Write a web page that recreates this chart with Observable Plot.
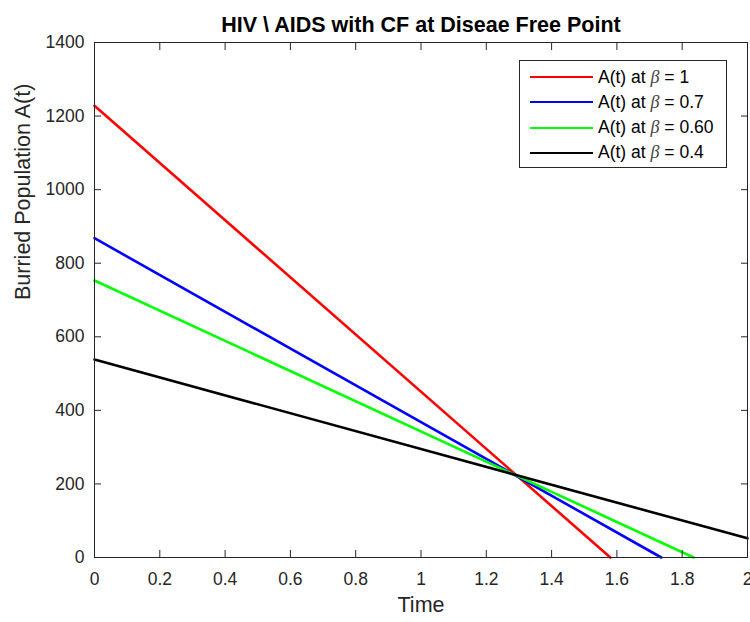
<!DOCTYPE html>
<html>
<head>
<meta charset="utf-8">
<script src="https://cdn.jsdelivr.net/npm/d3@7"></script>
<script src="https://cdn.jsdelivr.net/npm/@observablehq/plot@0.6"></script>
<style>
  html, body { margin: 0; padding: 0; background: #fff; }
  #wrap { position: relative; width: 750px; height: 622px; font-family: "Liberation Sans", Arial, sans-serif; }
  #legend { position: absolute; left: 519px; top: 60px; width: 208px; height: 108px; border: 1px solid #262626; background: #fff; box-sizing: border-box; }
  .row { position: absolute; left: 0; height: 22px; display: flex; align-items: center; font-size: 17.5px; color: #000; white-space: nowrap; }
  .row .sw { width: 63px; height: 0; border-top: 2.6px solid; margin-left: 10px; margin-right: 5px; }
  .beta { font-family: "Liberation Serif", "DejaVu Serif", serif; font-style: italic; color: #444; font-size: 18px; }
</style>
</head>
<body>
<div id="wrap"><div id="chart"></div><div id="legend"></div></div>
<script>
const title = "HIV \\ AIDS with CF at Diseae Free Point";
const xLabel = "Time";
const yLabel = "Burried Population A(t)";
const seriesNames = ["A(t) at β = 1", "A(t) at β = 0.7", "A(t) at β = 0.60", "A(t) at β = 0.4"];
const betaValues = ["1", "0.7", "0.60", "0.4"];
const seriesColors = ["#ff0000", "#0000ff", "#00ff00", "#000000"];
const timeValues = [[0, 1.58], [0, 1.736], [0, 1.835], [0, 2]];
const popValues = [[1228, 0], [868, 0], [753, 0], [538, 52]];
const xTicks = [0, 0.2, 0.4, 0.6, 0.8, 1, 1.2, 1.4, 1.6, 1.8, 2];
const yTicks = [0, 200, 400, 600, 800, 1000, 1200, 1400];

const rows = [];
seriesNames.forEach((name, i) => {
  timeValues[i].forEach((t, j) => rows.push({series: name, t, a: popValues[i][j]}));
});

const axisColor = "#262626";
const chart = Plot.plot({
  width: 750,
  height: 622,
  marginLeft: 94,
  marginRight: 3,
  marginTop: 42,
  marginBottom: 65,
  style: {fontFamily: "Liberation Sans, Arial, sans-serif", fontSize: "17.5px", color: axisColor, background: "#fff"},
  x: {domain: [0, 2]},
  y: {domain: [0, 1400]},
  color: {domain: seriesNames, range: seriesColors},
  marks: [
    Plot.line(rows, {x: "t", y: "a", stroke: "series", strokeWidth: 2.6, z: "series"}),
    Plot.frame({stroke: axisColor, strokeWidth: 1}),
    Plot.axisX({anchor: "bottom", ticks: xTicks, tickSize: -7, tickPadding: 22, fontSize: 17.5, tickFormat: d => String(+d.toFixed(1)), label: null, stroke: axisColor, fill: axisColor}),
    Plot.axisX({anchor: "top", ticks: xTicks, tickSize: -7, tickFormat: () => "", label: null, stroke: axisColor}),
    Plot.axisY({anchor: "left", ticks: yTicks, tickSize: -7, tickPadding: 17, fontSize: 17.5, tickFormat: d => String(d), label: null, stroke: axisColor, fill: axisColor}),
    Plot.axisY({anchor: "right", ticks: yTicks, tickSize: -7, tickFormat: () => "", label: null, stroke: axisColor}),
    Plot.text([title], {text: d => d, frameAnchor: "top", lineAnchor: "middle", dy: -17, fontSize: 21.5, fontWeight: "bold", fill: "#000"}),
    Plot.text([xLabel], {text: d => d, frameAnchor: "bottom", lineAnchor: "middle", dy: 48, fontSize: 21.5, fill: axisColor}),
    Plot.text([yLabel], {text: d => d, frameAnchor: "left", lineAnchor: "middle", dx: -71, rotate: -90, fontSize: 21.5, fill: axisColor})
  ]
});
document.getElementById("chart").appendChild(chart);

const legend = document.getElementById("legend");
seriesNames.forEach((name, i) => {
  const r = document.createElement("div");
  r.className = "row";
  r.style.top = (5 + i * 25.3) + "px";
  const sw = document.createElement("span");
  sw.className = "sw";
  sw.style.borderTopColor = seriesColors[i];
  r.appendChild(sw);
  const lab = document.createElement("span");
  lab.innerHTML = 'A(t) at <span class="beta">β</span> = ' + betaValues[i];
  r.appendChild(lab);
  legend.appendChild(r);
});
</script>
</body>
</html>
